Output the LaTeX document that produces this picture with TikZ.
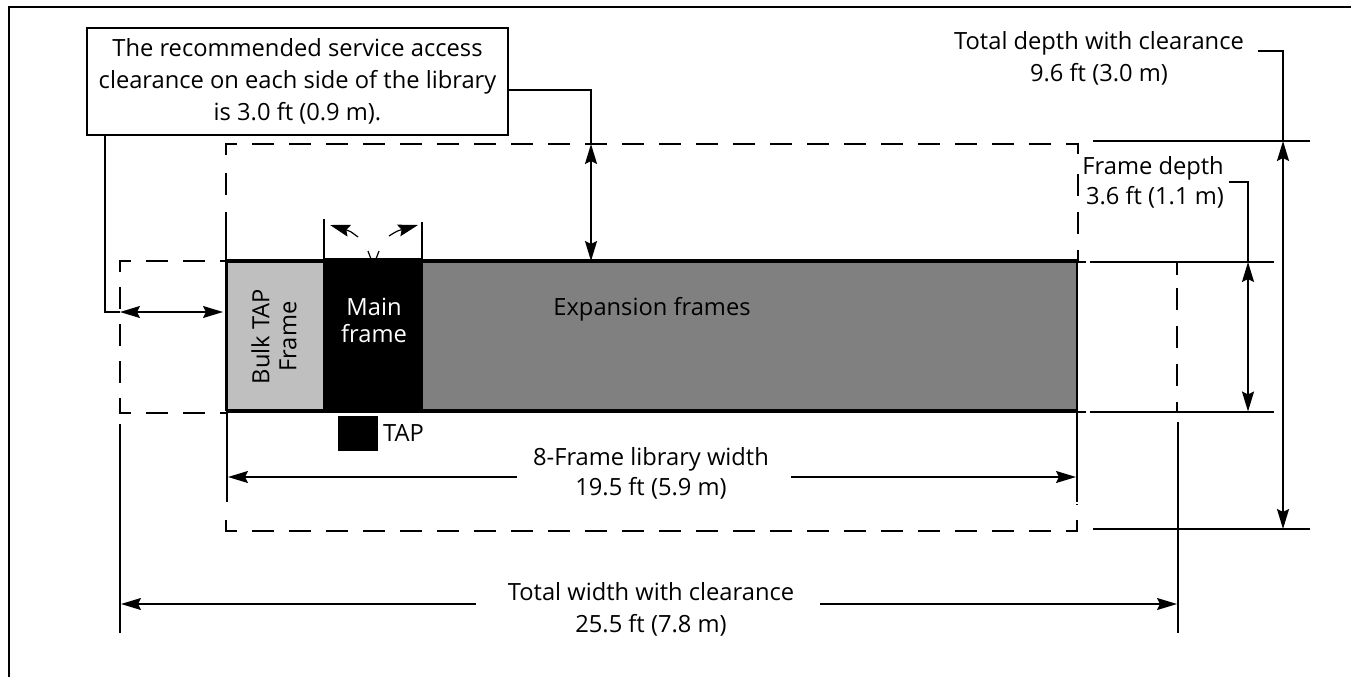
\documentclass[tikz,border=0pt]{standalone}
\usepackage{fontspec}
\setmainfont{Open Sans}
\usetikzlibrary{arrows.meta}
\definecolor{bulkgray}{RGB}{191,191,191}
\definecolor{expgray}{RGB}{128,128,128}
\tikzset{
  x=1pt,y=-1pt,
  solidline/.style={line width=2pt,line cap=butt},
  dashline/.style={line width=2pt,dash pattern=on 22pt off 15pt},
  headtip/.tip={Stealth[length=20pt,width=12pt,inset=3pt]},
  dimarrow/.style={line width=2pt,headtip-headtip},
  finearrow/.style={line width=1.5pt,headtip-headtip},
  halfl/.style={line width=1.6pt,headtip-},
  halfr/.style={line width=1.6pt,-headtip},
  lbl/.style={inner sep=0pt,font=\fontsize{23.7}{32}\selectfont,align=center,text=black},
  tight/.style={font=\fontsize{23.7}{27}\selectfont},
}
\begin{document}
\begin{tikzpicture}
\useasboundingbox (0,0) rectangle (1351,677);
% page frame
\draw[solidline] (8.7,677) -- (8.7,6.7) -- (1351,6.7);
% upper clearance
\draw[dashline] (226,155) -- (226,144) -- (1078,144) -- (1078,155);
\draw[dashline,dash phase=22pt,dash pattern=on 22pt off 16pt] (1078,158) -- (1078,261);
\draw[solidline] (226,173) -- (226,195) (226,212) -- (226,261);
% left clearance
\draw[dashline] (120,272) -- (120,261) -- (226,261);
\draw[dashline] (120,401.5) -- (120,412.5) -- (226,412.5);
\draw[dashline,dash phase=22pt] (120,272) -- (120,402);
% right clearance
\draw[dashline,dash phase=22pt,dash pattern=on 22pt off 16pt] (1177,272) -- (1177,412);
\draw[solidline] (1177,262) -- (1177,275);
\draw[solidline] (1077,261.7) -- (1086,261.7) (1077,411.7) -- (1086,411.7);
% lower clearance
\draw[dashline] (226,520) -- (226,531) -- (1077,531) -- (1077,504);
\draw[solidline] (227,412) -- (227,502) (1077,412) -- (1077,502);
% frames
\fill[bulkgray] (227,261) rectangle (323,411);
\fill[expgray] (423,261) rectangle (1077,411);
\draw[line width=3.5pt] (226,261) -- (1078,261);
\draw[line width=4pt] (226,411) -- (1078,411);
\draw[line width=3pt] (226.5,261) -- (226.5,411);
\draw[line width=2pt] (1077,261) -- (1077,411);
\fill[black] (323,258) rectangle (423,413);
\node[lbl,tight,rotate=90] (bulkt) at (274,336.5) {Bulk TAP\\Frame};
\node[lbl,tight,text=white] (maint) at (374,320) {Main\\frame};
\node[lbl] (expt) at (652,309) {Expansion frames};
\node[fill=black,minimum width=40pt,minimum height=35pt,inner sep=0pt] (tap) at (358,433.5) {};
\node[lbl,anchor=west] (tapt) at (383,433) {TAP};
% door marks
\draw[solidline] (324,219) -- (324,261) (422,222) -- (422,261);
\draw[line width=1.2pt,-headtip] (358,237) .. controls (350,231) .. (330,225);
\draw[line width=1.2pt,-headtip] (389,236) .. controls (397,231) .. (418,225);
\draw[line width=1.2pt] (368,251) -- (371,259) (379,251) -- (376,259);
% callout
\node[draw,line width=2pt,fill=white,minimum width=421pt,minimum height=107pt,lbl] (box) at (297.5,81.5) {The recommended service access\\clearance on each side of the library\\is 3.0 ft (0.9 m).};
\coordinate (tipup) at (591,144);
\coordinate (tipdn) at (591,261);
\draw[solidline] (box.east |- 0,89.5) -- (591,89.5) -- (tipup);
\draw[dimarrow] (tipup) -- (tipdn);
\coordinate (lefta) at (120,312);
\coordinate (leftb) at (223,312);
\coordinate (boxfoot) at (105,135);
\draw[solidline] (boxfoot) -- (105,312) -- (lefta);
\draw[finearrow] (lefta) -- (leftb);
% depth dims
\draw[solidline] (1093,141) -- (1310,141);
\draw[solidline] (1093,529) -- (1310,529);
\draw[solidline] (1090,261.7) -- (1274,261.7);
\draw[solidline] (1090,411.7) -- (1274,411.7);
\node[lbl] (td) at (1099,58) {Total depth with clearance\\9.6 ft (3.0 m)};
\draw[solidline] (1258,50.7) -- (1283,50.7) -- (1283,141);
\draw[dimarrow] (1283,141) -- (1283,529);
\node[lbl,align=right,anchor=east,font=\fontsize{23.7}{30}\selectfont] (fd) at (1224,182) {Frame depth\\3.6 ft (1.1 m)};
\draw[solidline] (1229,181.7) -- (1248,181.7) -- (1248,262);
\draw[dimarrow] (1248,262) -- (1248,411.5);
% width dims
\draw[solidline] (120,424) -- (120,632.5);
\draw[solidline] (1178,422) -- (1178,632.5);
\node[lbl,font=\fontsize{23.7}{30}\selectfont] (fw) at (651,473) {8-Frame library width\\19.5 ft (5.9 m)};
\draw[halfl] (228,477) -- (517,477);
\draw[halfr] (791,477) -- (1076,477);
\node[lbl] (tw) at (651,609) {Total width with clearance\\25.5 ft (7.8 m)};
\draw[halfl] (121,604) -- (476,604);
\draw[halfr] (820,604) -- (1177,604);
\end{tikzpicture}
\end{document}
